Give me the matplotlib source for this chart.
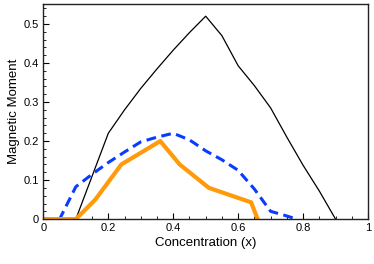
import matplotlib
matplotlib.use('Agg')
import matplotlib.pyplot as plt
from matplotlib.ticker import MultipleLocator

# values
black_x = [0, 0.1, 0.15, 0.2, 0.25, 0.3, 0.35, 0.4, 0.45, 0.5, 0.55, 0.6, 0.65, 0.7, 0.75, 0.8, 0.85, 0.9]
black_y = [0, 0, 0.11, 0.22, 0.28, 0.335, 0.385, 0.433, 0.478, 0.52, 0.47, 0.393, 0.342, 0.285, 0.21, 0.138, 0.072, 0]

blue_x = [0, 0.05, 0.1, 0.15, 0.2, 0.25, 0.3, 0.35, 0.4, 0.45, 0.5, 0.55, 0.6, 0.65, 0.7, 0.75, 0.78]
blue_y = [0, 0, 0.083, 0.115, 0.145, 0.172, 0.198, 0.21, 0.22, 0.203, 0.175, 0.152, 0.125, 0.077, 0.02, 0.008, 0]

orange_x = [0, 0.1, 0.16, 0.24, 0.36, 0.42, 0.51, 0.64, 0.66]
orange_y = [0, 0, 0.05, 0.14, 0.2, 0.14, 0.08, 0.043, 0]

x_ticks = [0, 0.2, 0.4, 0.6, 0.8, 1]
x_labels = ['0', '0.2', '0.4', '0.6', '0.8', '1']
y_ticks = [0, 0.1, 0.2, 0.3, 0.4, 0.5]
y_labels = ['0', '0.1', '0.2', '0.3', '0.4', '0.5']

plt.rcParams['font.family'] = ['Liberation Sans', 'DejaVu Sans']

fig = plt.figure(figsize=(3.74, 2.64), dpi=100)
ax = fig.add_axes([0.116, 0.17, 0.868, 0.813])

ax.plot(black_x, black_y, color='black', lw=0.9)
ax.plot(blue_x, blue_y, color='#0a3cff', lw=2.2, dashes=(3.2, 1.8))
ax.plot(orange_x, orange_y, color='#ff9a0a', lw=3.0)

ax.set_xticks(x_ticks, x_labels)
ax.set_yticks(y_ticks, y_labels)
ax.xaxis.set_minor_locator(MultipleLocator(0.05))
ax.yaxis.set_minor_locator(MultipleLocator(0.02))
ax.set_xlim(0, 1)
ax.set_ylim(0, 0.55)

ax.tick_params(which='both', direction='in', top=False, right=False, labelsize=8, pad=3)
ax.tick_params(which='major', length=4, width=0.8)
ax.tick_params(which='minor', length=2.2, width=0.6)

for s in ax.spines.values():
    s.set_linewidth(1.0)
    s.set_color('#222222')

ax.set_xlabel('Concentration (x)', fontsize=9.5, labelpad=3)
ax.set_ylabel('Magnetic Moment', fontsize=9.5, labelpad=3)

fig.savefig('out.png', dpi=100)
